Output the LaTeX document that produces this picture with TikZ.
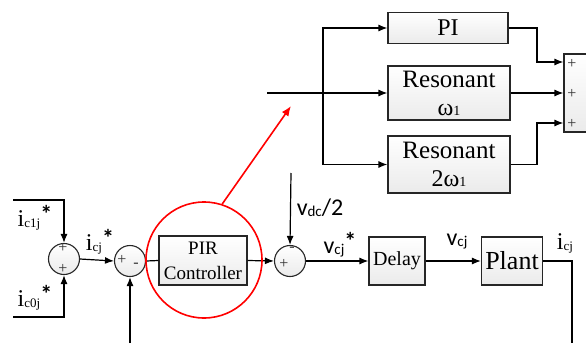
\documentclass[tikz,border=0pt]{standalone}
\usepackage{fontspec}
\setmainfont{Liberation Serif}
\newfontfamily\calfont{Carlito}
\usetikzlibrary{arrows.meta,positioning}
\newcommand{\fsz}[1]{\fontsize{#1}{#1}\selectfont}
\newcommand{\isig}[2]{{\fsz{24}i}\raisebox{-1pt}{\fsz{13}#1}\raisebox{4pt}{\calfont\bfseries\fsz{24}#2}}
\newcommand{\vsig}[2]{{\calfont\fsz{24}v}\raisebox{-1pt}{\calfont\fsz{15}#1}\raisebox{4pt}{\calfont\bfseries\fsz{24}#2}}
\tikzset{
  blk/.style   = {draw=black!85, line width=1.1pt, top color=white,
                  bottom color=gray!16, align=center, inner sep=0pt},
  sumc/.style  = {circle, draw=black!85, line width=1.1pt, top color=white,
                  bottom color=gray!16, minimum size=31pt, inner sep=0pt},
  sig/.style   = {-{Latex[length=9pt,width=7pt]}, line width=1.2pt},
  wire/.style  = {line width=1.2pt},
  sgn/.style   = {font=\fsz{16}, inner sep=0pt, text=black!80},
  lbl/.style   = {inner sep=0pt},
  hilite/.style = {draw=red, line width=1.6pt},
}
\begin{document}
\begin{tikzpicture}[x=1pt, y=-1pt]
  \useasboundingbox (0,0) rectangle (586,343);

  % ---- main loop ---------------------------------------------------------
  \node[sumc] (sum1) at (64,259) {};
  \node[sumc] (sum2) at (130,261) {};
  \node[blk, minimum width=88pt, minimum height=49pt, font=\fontsize{19}{25}\selectfont]
    (pir) at (203,260.5) {PIR\\Controller};
  \node[sumc] (sum3) at (290,261) {};
  \node[blk, minimum width=56pt, minimum height=48pt, font=\fsz{20}]
    (delay) at (397,261) {Delay};
  \node[blk, minimum width=61pt, minimum height=48pt, font=\fsz{26}]
    (plant) at (512,261) {Plant};

  % ---- PIR structure -----------------------------------------------------
  \node[blk, minimum width=120pt, minimum height=31pt, font=\fsz{24}]
    (pi) at (448,28) {PI};
  \node[blk, minimum width=122pt, minimum height=54pt, font=\fontsize{25}{28}\selectfont]
    (res1) at (449,93) {Resonant\\{\fsz{24}ω\fsz{14}1}};
  \node[blk, minimum width=122pt, minimum height=57pt, font=\fontsize{25}{28}\selectfont]
    (res2) at (449,164.5) {Resonant\\{\fsz{24}2ω\fsz{14}1}};
  \node[blk, minimum width=36pt, minimum height=78pt] (sumR) at (582,93) {};

  % ---- signs -------------------------------------------------------------
  \node[sgn] at (63,248) {+};
  \node[sgn] at (63,269) {+};
  \node[sgn] at (122,260) {+};
  \node[sgn] at (136,265) {-};
  \node[sgn] at (284,264) {+};
  \node[sgn] at (292,249) {-};
  \node[sgn] at (572,64) {+};
  \node[sgn] at (572,94) {+};
  \node[sgn] at (572,124) {+};

  % ---- free ends ---------------------------------------------------------
  \coordinate (ref1) at (13,200);
  \coordinate (ref0) at (13,317);
  \coordinate (fbin) at (130,343);
  \coordinate (vdc)  at (291,173);
  \coordinate (fbout) at (572,343);
  \coordinate (pin)  at (267,93);
  \coordinate (br)   at (323,93);
  \coordinate (jog)  at (537,0);

  % ---- connectors --------------------------------------------------------
  \draw[sig] (ref1) -| (sum1.north);
  \draw[sig] (ref0) -| (sum1.south);
  \draw[sig] (sum1.east) -- (sum2.west);
  \draw[sig] (fbin) -- (sum2.south);
  \draw[wire] (sum2.east) -- (pir.west);
  \draw[sig] (pir.east) -- (sum3.west);
  \draw[sig] (vdc) -- (sum3.north);
  \draw[sig] (sum3.east) -- (delay.west);
  \draw[sig] (delay.east) -- (plant.west);
  \draw[wire] (plant.east) -| (fbout);

  \draw[sig] (pin) -- (res1.west);
  \draw[sig] (br) |- (pi.west);
  \draw[sig] (br) |- (res2.west);
  \draw[sig] (pi.east) -- (pi.east -| jog) |- ([yshift=31pt]sumR.west);
  \draw[sig] (res1.east) -- (sumR.west);
  \draw[sig] (res2.east) -- (res2.east -| jog) |- ([yshift=-30pt]sumR.west);

  % ---- labels ------------------------------------------------------------
  \node[lbl] at (35,218) {\isig{c1j}{*}};
  \node[lbl] at (35,298) {\isig{c0j}{*}};
  \node[lbl] at (100,242) {\isig{cj}{*}};
  \node[lbl] at (320,208) {\vsig{dc}{}{\calfont\fsz{24}/2}};
  \node[lbl] at (340,245) {\vsig{cj}{*}};
  \node[lbl] at (457,242) {\vsig{cj}{}};
  \node[lbl] at (565,243) {\isig{cj}{}};

  % ---- highlight ---------------------------------------------------------
  \node[hilite, circle, minimum size=116pt] (zoomc) at (204,260) {};
  \coordinate (ztip) at (291,106);
  \draw[hilite, -{Latex[length=10pt,width=8pt]}] (zoomc.72) -- (ztip);

\end{tikzpicture}
\end{document}
